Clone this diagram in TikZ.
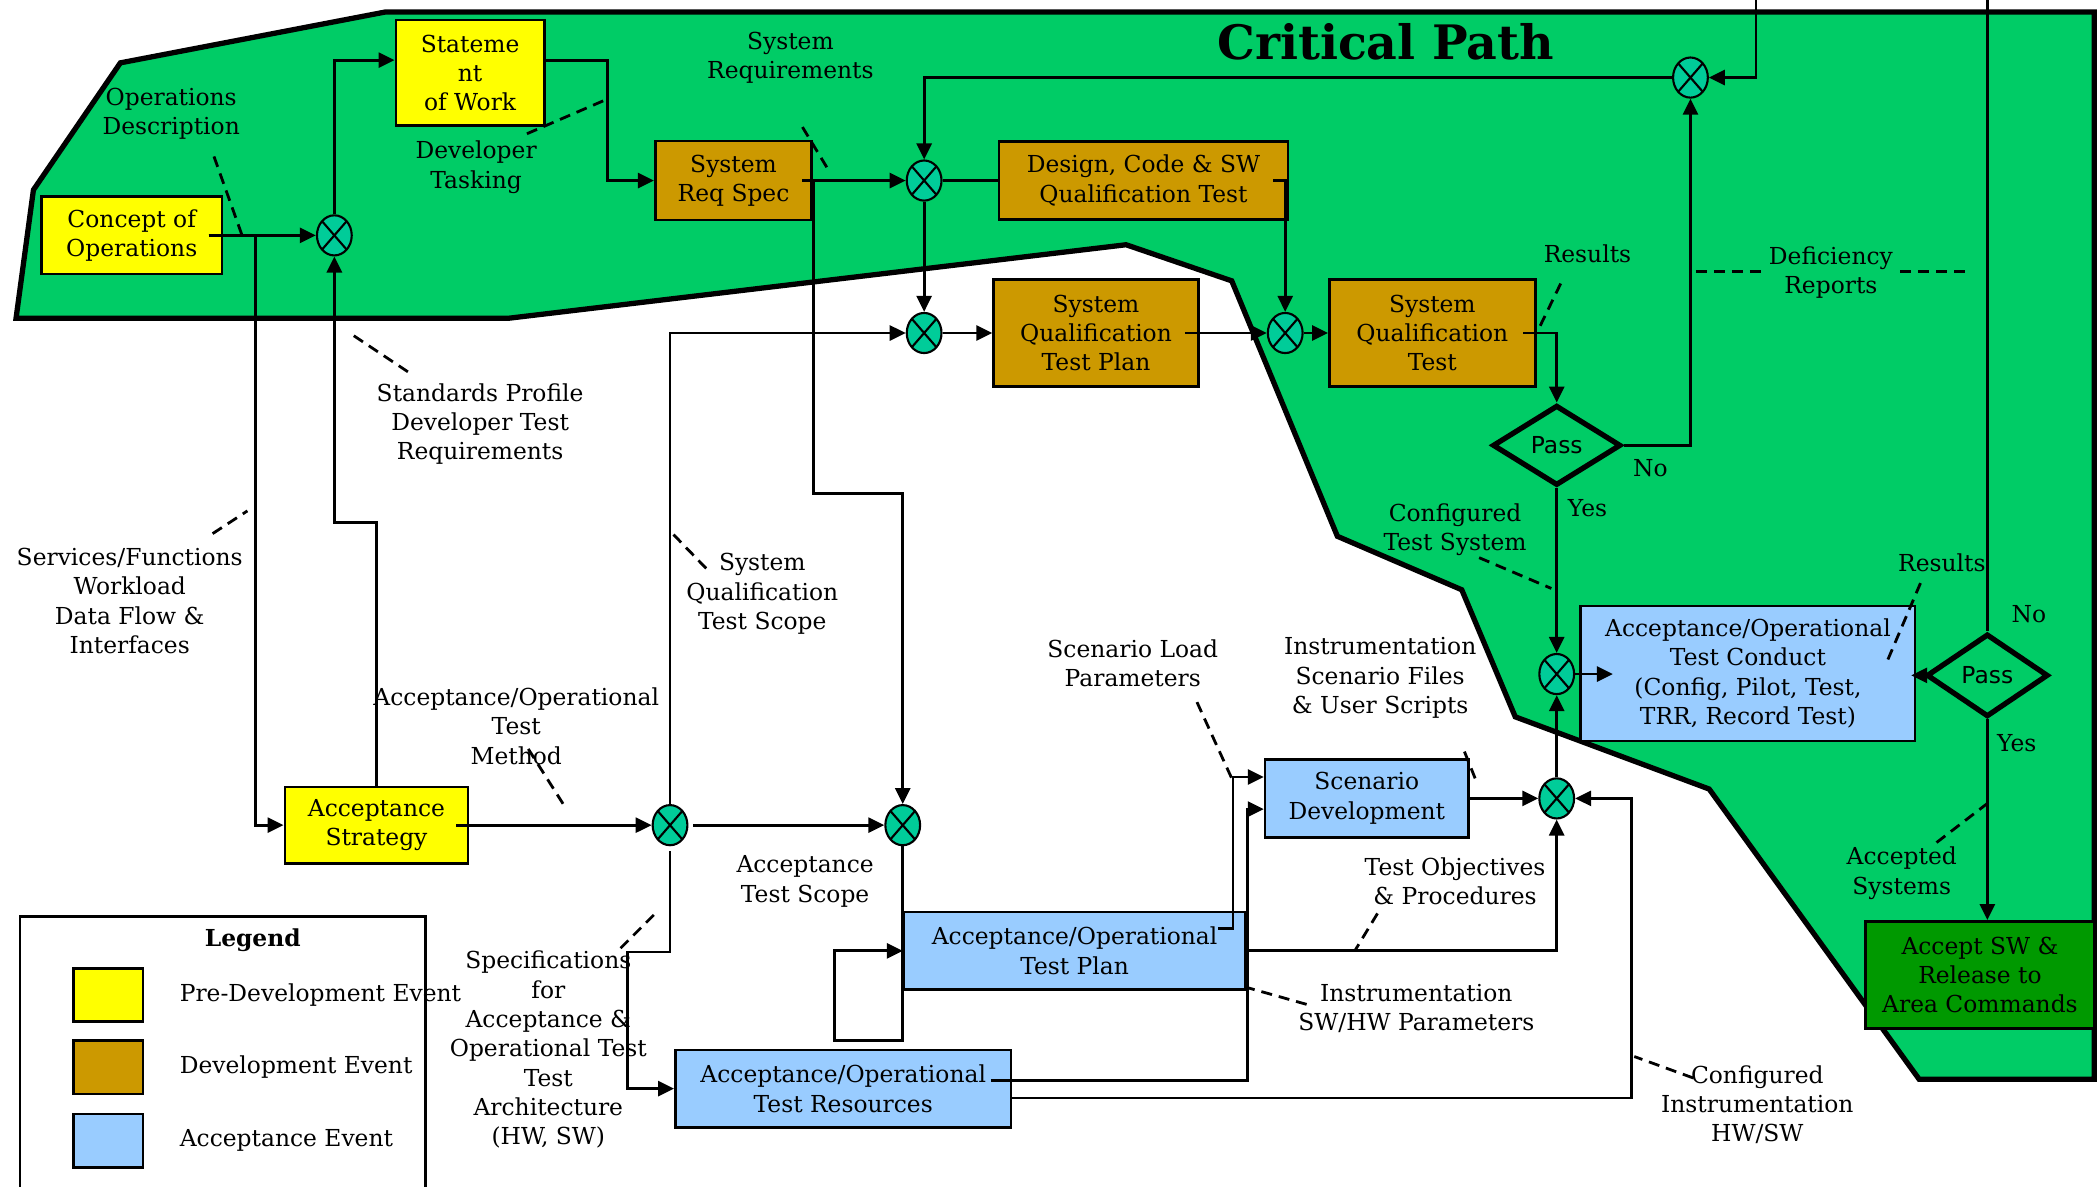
\documentclass[tikz,border=0pt]{standalone}
\usepackage{fontspec}
\setmainfont{DejaVu Serif}
\newfontfamily\passfont{DejaVu Sans}
\usetikzlibrary{shapes.geometric,arrows.meta,calc,positioning}
\definecolor{critgreen}{HTML}{00CC66}
\definecolor{preyellow}{HTML}{FFFF00}
\definecolor{devbrown}{HTML}{CC9900}
\definecolor{accblue}{HTML}{99CCFF}
\definecolor{relgreen}{HTML}{009900}
\definecolor{xorteal}{HTML}{00CC99}
\newcommand{\px}{0.2674mm}

\begin{document}
\fontsize{13.3}{16.7}\selectfont
\begin{tikzpicture}[x=\px, y=-\px, line width=1.6pt,
  box/.style = {draw, line width=1.5pt, align=center, inner sep=0pt},
  pre/.style = {box, fill=preyellow},
  dev/.style = {box, fill=devbrown},
  acc/.style = {box, fill=accblue},
  xor/.style = {draw, ellipse, fill=xorteal, line width=1.2pt, inner sep=0pt,
    minimum width=26*\px, minimum height=30*\px,
    path picture={\draw[line width=1.2pt] (path picture bounding box.south west) -- (path picture bounding box.north east)
      (path picture bounding box.north west) -- (path picture bounding box.south east);}},
  pass/.style = {draw, diamond, line width=3pt, inner sep=0pt, font=\passfont},
  lbl/.style = {align=center, inner sep=0pt},
  flow/.style = {-{Triangle[length=3.2mm,width=3mm]}},
  note/.style = {dash pattern=on 2.2mm off 1.4mm}]
\useasboundingbox (0,0) rectangle (1568,887);

\draw[fill=critgreen, line width=3pt] (12,238) -- (25,142) -- (90,47) -- (288,9) -- (1566,9) -- (1566,807)
  -- (1435,807) -- (1278,590) -- (1133,536) -- (1093,441) -- (1000,401) -- (921,210) -- (842,183) -- (380,238) -- cycle;
\node[font=\bfseries\fontsize{27}{31}\selectfont] (title) at (1036,31) {Critical Path};

\draw (15,890) |- (318,685) -- (318,890);
\node[font=\bfseries] (legend) at (189,703) {Legend};
\node[pre, minimum width=52*\px, minimum height=40*\px] (key1) at (81,744) {};
\node[dev, minimum width=52*\px, minimum height=40*\px] (key2) at (81,798) {};
\node[acc, minimum width=52*\px, minimum height=40*\px] (key3) at (81,853) {};
\node[lbl, right=6.8mm of key1] {Pre-Development Event};
\node[lbl, right=6.8mm of key2] {Development Event};
\node[lbl, right=6.8mm of key3] {Acceptance Event};

\node[pre, minimum width=135*\px, minimum height=58*\px] (conops) at (98.5,176) {Concept of\\Operations};
\node[pre, minimum width=111*\px, minimum height=79*\px] (sow) at (351.5,54.5) {Stateme\\nt\\of Work};
\node[dev, minimum width=117*\px, minimum height=59*\px] (srs) at (548.5,135) {System\\Req Spec};
\node[dev, minimum width=216*\px, minimum height=58*\px] (dcode) at (855,135) {Design, Code \& SW\\Qualification Test};
\node[dev, minimum width=153*\px, minimum height=80*\px] (sqtp) at (819.5,249) {System\\Qualification\\Test Plan};
\node[dev, minimum width=154*\px, minimum height=80*\px] (sqt) at (1071,249) {System\\Qualification\\Test};
\node[pass, minimum width=96*\px, minimum height=60*\px] (pass1) at (1164,333) {Pass};
\node[acc, minimum width=250*\px, minimum height=101*\px] (conduct) at (1307,503.5) {Acceptance/Operational\\Test Conduct\\(Config, Pilot, Test,\\TRR, Record Test)};
\node[pass, minimum width=91*\px, minimum height=62*\px] (pass2) at (1486,505) {Pass};
\node[box, fill=relgreen, minimum width=171*\px, minimum height=80*\px] (release) at (1480.5,729) {Accept SW \&\\Release to\\Area Commands};
\node[pre, minimum width=137*\px, minimum height=57*\px] (strat) at (281.5,617) {Acceptance\\Strategy};
\node[acc, minimum width=152*\px, minimum height=58*\px] (scen) at (1022,597) {Scenario\\Development};
\node[acc, minimum width=255*\px, minimum height=58*\px] (tplan) at (803.5,711) {Acceptance/Operational\\Test Plan};
\node[acc, minimum width=251*\px, minimum height=58*\px] (tres) at (630.5,814) {Acceptance/Operational\\Test Resources};

\node[xor] (x1) at (250,176) {};
\node[xor] (x2) at (691,135) {};
\node[xor] (x3) at (691,249) {};
\node[xor] (x4) at (961,249) {};
\node[xor] (x5) at (1264,58) {};
\node[xor] (x6) at (1164,504) {};
\node[xor] (x7) at (1164,597) {};
\node[xor] (x8) at (501,617) {};
\node[xor] (x9) at (675,617) {};
\coordinate (inA) at (1313,0);
\coordinate (inB) at (1486,0);

\draw[flow] ([xshift=-11*\px]conops.east) -- (x1.west);
\draw[flow] ([xshift=-11*\px]conops.east) -- ++(35,0) |- (strat.west);
\draw[flow] (x1.north) |- ([yshift=9.5*\px]sow.west);
\draw[flow] (strat.north) -- ++(0,-197) -| (x1.south);
\draw[flow] ([yshift=9.5*\px]sow.east) -- ++(46,0) |- (srs.west);
\draw[flow] ([xshift=-8*\px]srs.east) -- (x2.west);
\draw[flow] (srs.east) -- ++(0,234) -| (x9.north);
\draw (x2.east) -- (dcode.west);
\draw[flow] ([xshift=-12*\px]dcode.east) -| (x4.north);
\draw[flow] (x2.south) -- (x3.north);
\draw[flow] (x5.west) -| (x2.north);
\draw[flow] (x3.east) -- (sqtp.west);
\draw[flow] (x8.north) |- (x3.west);
\draw[flow] ([xshift=-11*\px]sqtp.east) -- (x4.west);
\draw[flow] (x4.east) -- (sqt.west);
\draw[flow] ([xshift=-10*\px]sqt.east) -| (pass1.north);
\draw[flow] (pass1.east) -| (x5.south);
\draw[flow] (pass1.south) -- (x6.north);
\draw[flow] (x6.east) -- ([xshift=25*\px]conduct.west |- x6.east);
\draw[flow] (x7.north) -- (x6.south);
\draw[flow] (scen.east) -- (x7.west);
\draw[flow] (pass2.west) -- ([xshift=-4*\px]conduct.east |- pass2.west);
\draw (inB) -- (pass2.north);
\draw[flow] (pass2.south) -- (pass2.south |- release.north);
\draw[flow] (inA) |- (x5.east);
\draw[flow] ([xshift=-10*\px]strat.east) -- (x8.west);
\draw[flow, shorten <=1mm] (x8.east) -- (x9.west);
\draw[flow, shorten <=1mm] (x8.south) -- ++(0,79) -- ++(-32,0) |- (tres.west);
\draw[flow] (x9.south) -- ++(0,145) -- ++(-51,0) |- (tplan.west);
\draw[flow] ([shift={(-21*\px,17*\px)}]tplan.east) -- ++(11,0) |- ([yshift=16*\px]scen.west);
\draw[flow] ([shift={(-16*\px,6*\px)}]tres.east) -- ++(192,0) |- ([yshift=-8*\px]scen.west);
\draw[flow] (tplan.east) -| (x7.south);
\draw[flow] ([yshift=-7*\px]tres.east) -- ++(463,0) |- (x7.east);

\node[lbl] (opsdesc) at (128,85) {Operations\\Description};
\draw[note] ([shift={(32,32)}]opsdesc.center) -- ++(21,59);
\node[lbl] (tasking) at (356,125) {Developer\\Tasking};
\draw[note] ([shift={(38,-25)}]tasking.center) -- ++(58,-25);
\node[lbl] (sysreq) at (591,43) {System\\Requirements};
\draw[note] ([shift={(9,52)}]sysreq.center) -- ++(20,33);
\node[lbl] (stdprof) at (359,317) {Standards Profile\\Developer Test\\Requirements};
\draw[note] ([shift={(-54,-39)}]stdprof.center) -- ++(-42,-28);
\node[lbl] (services) at (97,449.5) {Services/Functions\\Workload\\Data Flow \&\\Interfaces};
\draw[note] ([shift={(62,-50.5)}]services.center) -- ++(26,-17);
\node[lbl] (qscope) at (570,444) {System\\Qualification\\Test Scope};
\draw[note] ([shift={(-42,-19)}]qscope.center) -- ++(-27,-28);
\node[lbl] (method) at (386,543) {Acceptance/Operational\\Test\\Method};
\draw[note] ([shift={(9,17)}]method.center) -- ++(26,41);
\node[lbl] (results1) at (1187,190) {Results};
\draw[note] ([shift={(-20,22)}]results1.center) -- ++(-17,35);
\node[lbl] (deficiency) at (1369,204) {Deficiency\\Reports};
\draw[note] ([shift={(-101,-1)}]deficiency.center) -- ++(50,0);
\draw[note] ([shift={(52,-1)}]deficiency.center) -- ++(51,0);
\node[lbl] (no1) at (1234,350) {No};
\node[lbl] (yes1) at (1187,380) {Yes};
\node[lbl] (cfgsys) at (1088,396) {Configured\\Test System};
\draw[note] ([shift={(18,21)}]cfgsys.center) -- ++(54,23);
\node[lbl] (results2) at (1452,421) {Results};
\draw[note] ([shift={(-16,15)}]results2.center) -- ++(-26,61);
\node[lbl] (no2) at (1517,459) {No};
\node[lbl] (yes2) at (1508,556) {Yes};
\node[lbl] (accepted) at (1422,653) {Accepted\\Systems};
\draw[note] ([shift={(26,-23)}]accepted.center) -- ++(39,-30);
\node[lbl] (loadpar) at (847,496) {Scenario Load\\Parameters};
\draw[note] ([shift={(48,29)}]loadpar.center) -- ++(26,57);
\node[lbl] (instfiles) at (1032,507) {Instrumentation\\Scenario Files\\\& User Scripts};
\draw[note] ([shift={(63,55)}]instfiles.center) -- ++(8,20);
\node[lbl] (ascope) at (602,659) {Acceptance\\Test Scope};
\node[lbl] (objectives) at (1088,659) {Test Objectives\\\& Procedures};
\draw[note] ([shift={(-58,24)}]objectives.center) -- ++(-17,28);
\node[lbl] (instpar) at (1059,754) {Instrumentation\\SW/HW Parameters};
\draw[note] ([shift={(-82,-3)}]instpar.center) -- ++(-46,-13);
\node[lbl] (cfginst) at (1314,826) {Configured\\Instrumentation\\HW/SW};
\draw[note] ([shift={(-48,-20)}]cfginst.center) -- ++(-44,-16);
\node[lbl] (specs) at (410,785) {Specifications\\for\\Acceptance \&\\Operational Test\\Test\\Architecture\\(HW, SW)};
\draw[note] ([shift={(54,-76)}]specs.center) -- ++(26,-26);
\end{tikzpicture}
\end{document}
